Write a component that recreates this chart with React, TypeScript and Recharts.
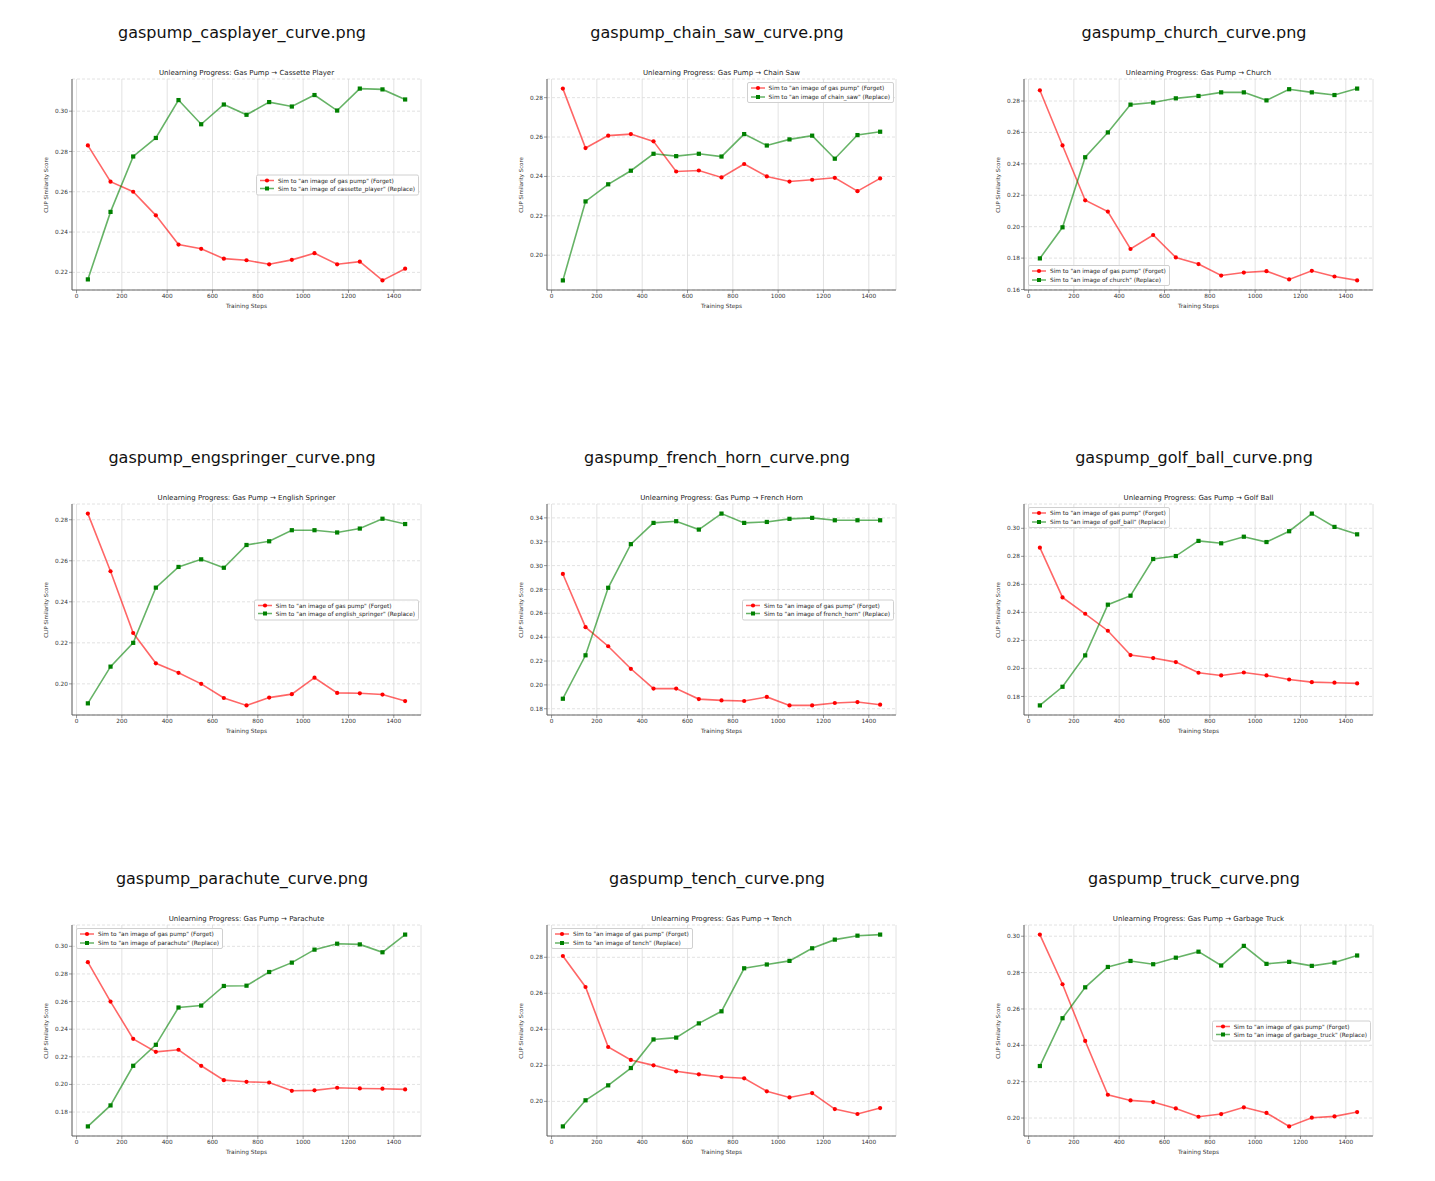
import React from 'react';
import { LineChart, Line, XAxis, YAxis, CartesianGrid } from 'recharts';

const STEPS = [50, 150, 250, 350, 450, 550, 650, 750, 850, 950, 1050, 1150, 1250, 1350, 1450];
const X_TICKS = [0, 200, 400, 600, 800, 1000, 1200, 1400];

const casplayerForget = [0.283, 0.265, 0.26, 0.2483, 0.2338, 0.2317, 0.2268, 0.226, 0.224, 0.2262, 0.2295, 0.224, 0.2253, 0.216, 0.2218];
const casplayerReplace = [0.2165, 0.25, 0.2775, 0.2867, 0.3055, 0.2935, 0.3033, 0.2982, 0.3045, 0.3023, 0.308, 0.3003, 0.3112, 0.3108, 0.3058];

const chainSawForget = [0.2846, 0.2544, 0.2607, 0.2615, 0.2578, 0.2425, 0.243, 0.2395, 0.2463, 0.24, 0.2374, 0.2383, 0.2393, 0.2325, 0.239];
const chainSawReplace = [0.1872, 0.2273, 0.236, 0.2429, 0.2515, 0.2503, 0.2515, 0.2501, 0.2615, 0.2557, 0.2588, 0.2607, 0.249, 0.261, 0.2627];

const churchForget = [0.2868, 0.2517, 0.2168, 0.2096, 0.1858, 0.1947, 0.1804, 0.1762, 0.1689, 0.1708, 0.1717, 0.1664, 0.1719, 0.1683, 0.1658];
const churchReplace = [0.1798, 0.1996, 0.2442, 0.26, 0.2777, 0.279, 0.2817, 0.2832, 0.2855, 0.2855, 0.2804, 0.2875, 0.2855, 0.2838, 0.2879];

const springerForget = [0.283, 0.2549, 0.2248, 0.21, 0.2054, 0.2, 0.1931, 0.1895, 0.1933, 0.195, 0.203, 0.1956, 0.1954, 0.1948, 0.1916];
const springerReplace = [0.1905, 0.2084, 0.22, 0.2469, 0.257, 0.2607, 0.2566, 0.2677, 0.2695, 0.2749, 0.2749, 0.2738, 0.2757, 0.2805, 0.2779];

const hornForget = [0.293, 0.2484, 0.2324, 0.2135, 0.1969, 0.1969, 0.1881, 0.187, 0.1865, 0.1899, 0.1828, 0.1828, 0.1848, 0.1856, 0.1834];
const hornReplace = [0.1884, 0.2248, 0.2814, 0.318, 0.3358, 0.3372, 0.3302, 0.3436, 0.3358, 0.3366, 0.3392, 0.34, 0.338, 0.338, 0.338];

const golfForget = [0.2862, 0.2507, 0.239, 0.2269, 0.2095, 0.2074, 0.2045, 0.1969, 0.195, 0.1971, 0.195, 0.1921, 0.1902, 0.1898, 0.1893];
const golfReplace = [0.1736, 0.1869, 0.2093, 0.2455, 0.2519, 0.2781, 0.2802, 0.291, 0.2893, 0.294, 0.2902, 0.2979, 0.3105, 0.301, 0.2957];

const parachuteForget = [0.2885, 0.26, 0.233, 0.2236, 0.2251, 0.2135, 0.2031, 0.2019, 0.2014, 0.1954, 0.1957, 0.1976, 0.1971, 0.1969, 0.1964];
const parachuteReplace = [0.1696, 0.1848, 0.2135, 0.2287, 0.2557, 0.2571, 0.2713, 0.2715, 0.2814, 0.2882, 0.2976, 0.3019, 0.3014, 0.2957, 0.3085];

const tenchForget = [0.2807, 0.2635, 0.2302, 0.223, 0.22, 0.2167, 0.215, 0.2135, 0.2128, 0.2056, 0.2022, 0.2046, 0.1957, 0.193, 0.1963];
const tenchReplace = [0.1861, 0.2006, 0.2089, 0.2185, 0.2344, 0.2354, 0.2433, 0.25, 0.2739, 0.276, 0.278, 0.285, 0.2898, 0.292, 0.2926];

const truckForget = [0.3009, 0.2736, 0.2424, 0.2128, 0.2097, 0.2088, 0.2053, 0.2007, 0.2022, 0.2059, 0.2028, 0.1954, 0.2002, 0.2009, 0.2033];
const truckReplace = [0.2286, 0.2549, 0.2719, 0.2831, 0.2864, 0.2846, 0.2882, 0.2915, 0.2839, 0.2947, 0.2848, 0.2859, 0.2837, 0.2855, 0.2894];

type LegendPos = 'center right' | 'upper right' | 'lower left' | 'upper left';

const PANELS: {
  file: string;
  title: string;
  target: string;
  forget: number[];
  replace: number[];
  legend: LegendPos;
}[] = [
  { file: 'gaspump_casplayer_curve.png', title: 'Unlearning Progress: Gas Pump → Cassette Player', target: 'cassette_player', forget: casplayerForget, replace: casplayerReplace, legend: 'center right' },
  { file: 'gaspump_chain_saw_curve.png', title: 'Unlearning Progress: Gas Pump → Chain Saw', target: 'chain_saw', forget: chainSawForget, replace: chainSawReplace, legend: 'upper right' },
  { file: 'gaspump_church_curve.png', title: 'Unlearning Progress: Gas Pump → Church', target: 'church', forget: churchForget, replace: churchReplace, legend: 'lower left' },
  { file: 'gaspump_engspringer_curve.png', title: 'Unlearning Progress: Gas Pump → English Springer', target: 'english_springer', forget: springerForget, replace: springerReplace, legend: 'center right' },
  { file: 'gaspump_french_horn_curve.png', title: 'Unlearning Progress: Gas Pump → French Horn', target: 'french_horn', forget: hornForget, replace: hornReplace, legend: 'center right' },
  { file: 'gaspump_golf_ball_curve.png', title: 'Unlearning Progress: Gas Pump → Golf Ball', target: 'golf_ball', forget: golfForget, replace: golfReplace, legend: 'upper left' },
  { file: 'gaspump_parachute_curve.png', title: 'Unlearning Progress: Gas Pump → Parachute', target: 'parachute', forget: parachuteForget, replace: parachuteReplace, legend: 'upper left' },
  { file: 'gaspump_tench_curve.png', title: 'Unlearning Progress: Gas Pump → Tench', target: 'tench', forget: tenchForget, replace: tenchReplace, legend: 'upper left' },
  { file: 'gaspump_truck_curve.png', title: 'Unlearning Progress: Gas Pump → Garbage Truck', target: 'garbage_truck', forget: truckForget, replace: truckReplace, legend: 'center right' },
];

const COL_LEFT = [32, 507, 984];
const ROW_TOP = [52, 477, 898];
const W = 390;
const H = 250;
const M = { top: 19, right: 9, bottom: 0, left: 2 };
const Y_W = 30;
const X_H = 20;
const PLOT_L = M.left + Y_W;
const PLOT_R = W - M.right;
const PLOT_T = M.top;
const PLOT_B = H - X_H;

const FONT = '"DejaVu Sans", sans-serif';
const RED = '#ff0000';
const GREEN = '#008000';
const SPINE = '#555';

// matplotlib style autoscale: 5% padding on the data range
function yDomain(a: number[], b: number[]): [number, number] {
  const all = [...a, ...b];
  const lo = Math.min(...all);
  const hi = Math.max(...all);
  const pad = (hi - lo) * 0.05;
  return [lo - pad, hi + pad];
}

function yTicks([lo, hi]: [number, number]) {
  const out: number[] = [];
  for (let k = Math.ceil(lo / 0.02 - 1e-9); k * 0.02 <= hi + 1e-9; k++) {
    out.push(Math.round(k * 2) / 100);
  }
  return out;
}

const SquareDot = (props: any) => {
  const { cx, cy, index } = props;
  if (cx == null || cy == null) return <g key={`sq-${index}`} />;
  return <rect key={`sq-${index}`} x={cx - 2.1} y={cy - 2.1} width={4.2} height={4.2} fill={GREEN} />;
};

function LegendSample({ color, square }: { color: string; square?: boolean }) {
  return (
    <svg width={14} height={6} style={{ marginRight: 4, flex: 'none' }}>
      <line x1={0} y1={3} x2={14} y2={3} stroke={color} strokeOpacity={0.6} strokeWidth={1.5} />
      {square ? (
        <rect x={5} y={1} width={4} height={4} fill={color} />
      ) : (
        <circle cx={7} cy={3} r={2.1} fill={color} />
      )}
    </svg>
  );
}

function LegendBox({ pos, target }: { pos: LegendPos; target: string }) {
  const style: React.CSSProperties = {
    position: 'absolute',
    background: 'rgba(255,255,255,0.85)',
    border: '1px solid #d0d0d0',
    borderRadius: 2,
    padding: '1px 3px',
    fontFamily: FONT,
    fontSize: 5.8,
    lineHeight: '8.5px',
    color: '#222',
    whiteSpace: 'nowrap',
  };
  if (pos.includes('right')) style.right = W - PLOT_R + 2;
  else style.left = PLOT_L + 4;
  if (pos.startsWith('upper')) style.top = PLOT_T + 3;
  else if (pos.startsWith('lower')) style.bottom = H - PLOT_B + 4;
  else {
    style.top = (PLOT_T + PLOT_B) / 2;
    style.transform = 'translateY(-50%)';
  }
  return (
    <div style={style}>
      <div style={{ display: 'flex', alignItems: 'center' }}>
        <LegendSample color={RED} />
        <span>Sim to "an image of gas pump" (Forget)</span>
      </div>
      <div style={{ display: 'flex', alignItems: 'center' }}>
        <LegendSample color={GREEN} square />
        <span>Sim to "an image of {target}" (Replace)</span>
      </div>
    </div>
  );
}

function Panel({ panel, left, top }: { panel: (typeof PANELS)[number]; left: number; top: number }) {
  const data = STEPS.map((step, i) => ({ step, forget: panel.forget[i], replace: panel.replace[i] }));
  const domain = yDomain(panel.forget, panel.replace);
  const ticks = yTicks(domain);
  const plotMidX = (PLOT_L + PLOT_R) / 2;

  return (
    <>
      <div
        style={{
          position: 'absolute',
          left: left + 202 - 200,
          top: top - 37,
          width: 400,
          textAlign: 'center',
          fontFamily: FONT,
          fontSize: 16,
          color: '#111',
          lineHeight: '20px',
        }}
      >
        {panel.file}
      </div>
      <div style={{ position: 'absolute', left, top, width: W, height: H }}>
        <LineChart width={W} height={H} data={data} margin={M}>
          <CartesianGrid horizontal={false} stroke="#dadada" strokeWidth={0.8} />
          <CartesianGrid vertical={false} stroke="#dadada" strokeWidth={0.8} strokeDasharray="3 2" />
          <XAxis
            dataKey="step"
            type="number"
            domain={[-20, 1520]}
            ticks={X_TICKS}
            allowDataOverflow
            height={X_H}
            tick={{ fontSize: 5.8, fill: '#333', fontFamily: FONT }}
            tickSize={3}
            tickMargin={1}
            axisLine={{ stroke: SPINE, strokeWidth: 0.9 }}
            tickLine={{ stroke: SPINE, strokeWidth: 0.6 }}
          />
          <XAxis
            xAxisId="top"
            dataKey="step"
            type="number"
            domain={[-20, 1520]}
            orientation="top"
            height={0}
            tick={false}
            tickLine={false}
            axisLine={{ stroke: SPINE, strokeWidth: 0.9 }}
          />
          <YAxis
            type="number"
            domain={domain}
            ticks={ticks}
            allowDataOverflow
            width={Y_W}
            tickFormatter={(v: number) => v.toFixed(2)}
            tick={{ fontSize: 5.8, fill: '#333', fontFamily: FONT }}
            tickSize={3}
            tickMargin={1}
            axisLine={{ stroke: SPINE, strokeWidth: 0.9 }}
            tickLine={{ stroke: SPINE, strokeWidth: 0.6 }}
          />
          <YAxis
            yAxisId="right"
            orientation="right"
            type="number"
            domain={domain}
            width={0}
            tick={false}
            tickLine={false}
            axisLine={{ stroke: SPINE, strokeWidth: 0.9 }}
          />
          <Line
            dataKey="forget"
            stroke={RED}
            strokeOpacity={0.6}
            strokeWidth={1.6}
            dot={{ r: 2.1, fill: RED, stroke: 'none', fillOpacity: 1 }}
            activeDot={false}
            isAnimationActive={false}
          />
          <Line
            dataKey="replace"
            stroke={GREEN}
            strokeOpacity={0.6}
            strokeWidth={1.6}
            dot={SquareDot}
            activeDot={false}
            isAnimationActive={false}
          />
        </LineChart>
        <div
          style={{
            position: 'absolute',
            left: plotMidX - 150,
            top: 8,
            width: 300,
            textAlign: 'center',
            fontFamily: FONT,
            fontSize: 7,
            color: '#222',
            lineHeight: '10px',
          }}
        >
          {panel.title}
        </div>
        <div
          style={{
            position: 'absolute',
            left: plotMidX - 50,
            top: H - 8,
            width: 100,
            textAlign: 'center',
            fontFamily: FONT,
            fontSize: 5.8,
            color: '#333',
            lineHeight: '8px',
          }}
        >
          Training Steps
        </div>
        <div
          style={{
            position: 'absolute',
            left: 6 - 50,
            top: (PLOT_T + PLOT_B) / 2 - 4,
            width: 100,
            textAlign: 'center',
            fontFamily: FONT,
            fontSize: 5.4,
            color: '#333',
            lineHeight: '8px',
            transform: 'rotate(-90deg)',
          }}
        >
          CLIP Similarity Score
        </div>
        <LegendBox pos={panel.legend} target={panel.target} />
      </div>
    </>
  );
}

export default function App() {
  return (
    <div style={{ position: 'relative', width: 1419, height: 1165, background: '#fff' }}>
      {PANELS.map((p, i) => (
        <Panel key={p.file} panel={p} left={COL_LEFT[i % 3]} top={ROW_TOP[Math.floor(i / 3)]} />
      ))}
    </div>
  );
}
